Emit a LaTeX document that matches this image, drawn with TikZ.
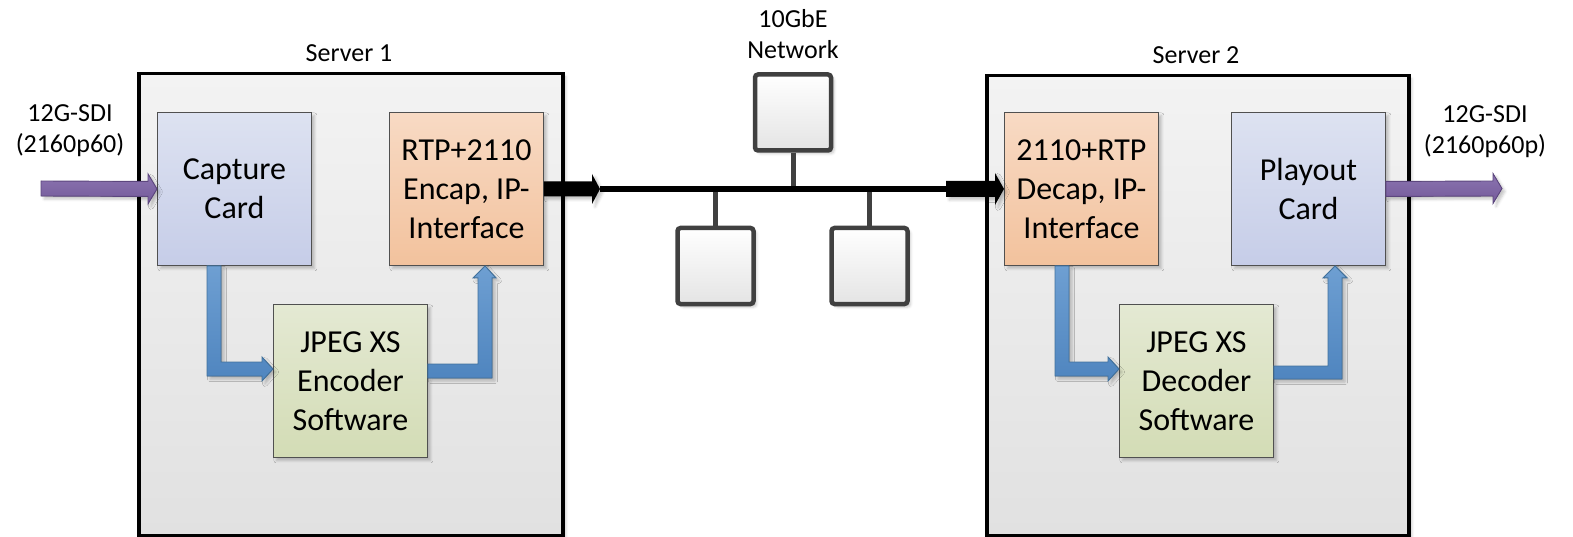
\documentclass[tikz,border=0pt]{standalone}
\usepackage{fontspec}
\setmainfont{Carlito}
\usetikzlibrary{calc,shadows.blur}

\definecolor{srvtop}{HTML}{F3F3F3}
\definecolor{srvbot}{HTML}{E1E1E1}
\definecolor{blkline}{HTML}{505050}
\definecolor{cardtop}{HTML}{DDE2F1}
\definecolor{cardbot}{HTML}{C6CDE8}
\definecolor{iptop}{HTML}{F8DAC4}
\definecolor{ipbot}{HTML}{F2C29D}
\definecolor{swtop}{HTML}{E4E9D3}
\definecolor{swbot}{HTML}{D3DCB5}
\definecolor{bluetop}{HTML}{6E9FD2}
\definecolor{bluebot}{HTML}{4F85BF}
\definecolor{bluedk}{HTML}{41719C}
\definecolor{purtop}{HTML}{8B74B0}
\definecolor{purbot}{HTML}{745A9A}
\definecolor{purdk}{HTML}{5C467E}
\definecolor{netgray}{HTML}{404040}
\definecolor{netbot}{HTML}{E4E4E4}

\begin{document}
\begin{tikzpicture}[x=1pt,y=-1pt,
  softshadow/.style={blur shadow={shadow xshift=3pt,shadow yshift=-3pt,
      shadow blur radius=2.5pt,shadow opacity=22}},
  server/.style={draw=black,line width=3.5pt,top color=srvtop,bottom color=srvbot,
      anchor=north west,inner sep=0pt,softshadow},
  block/.style={draw=blkline,line width=0.9pt,minimum width=154pt,minimum height=153pt,
      anchor=north west,inner sep=0pt,align=center,
      font=\fontsize{32}{39}\selectfont,softshadow},
  cardblk/.style={block,top color=cardtop,bottom color=cardbot},
  ipblk/.style={block,top color=iptop,bottom color=ipbot},
  swblk/.style={block,top color=swtop,bottom color=swbot},
  netbox/.style={draw=netgray,line width=4.5pt,rounded corners=3pt,minimum size=76pt,
      inner sep=0pt,top color=white,bottom color=netbot,softshadow},
  % multi-line labels sit on the baseline of their last line
  lbl/.style={font=\fontsize{26}{31}\selectfont,align=center,anchor=base,inner sep=0pt},
  bluearr/.style={draw=bluedk,line width=0.9pt,top color=bluetop,bottom color=bluebot,
      line join=miter,softshadow},
  purparr/.style={draw=purdk,line width=0.9pt,top color=purtop,bottom color=purbot,
      line join=miter,softshadow},
  blackarr/.style={fill=black,softshadow},
  bus/.style={draw=black,line width=6pt},
  stem/.style={draw=netgray,line width=5pt}
]
\useasboundingbox (0,0) rectangle (1573,537);

% servers
\node[server,minimum width=424pt,minimum height=462pt] (srv1) at (137,72) {};
\node[server,minimum width=422pt,minimum height=460pt] (srv2) at (985,74) {};
\node[lbl] (srv1lbl) at (349,62) {Server 1};
\node[lbl] (srv2lbl) at (1196,64) {Server 2};

% server 1 blocks
\node[cardblk] (cap) at (157,112) {Capture\\Card};
\node[ipblk]   (rtp) at (389,112) {RTP+2110\\Encap, IP-\\Interface};
\node[swblk]   (enc) at (273,304) {JPEG XS\\Encoder\\Software};

% server 2 blocks
\node[ipblk]   (dcp) at (1004,112) {2110+RTP\\Decap, IP-\\Interface};
\node[cardblk] (ply) at (1231,112) {Playout\\Card};
\node[swblk]   (dec) at (1119,304) {JPEG XS\\Decoder\\Software};

% SDI in / out labels
\node[lbl] (sdiinlbl)  at (70,153)   {12G-SDI\\(2160p60)};
\node[lbl] (sdioutlbl) at (1485,154) {12G-SDI\\(2160p60p)};
\coordinate (sdiin)  at (41,188.5);
\coordinate (sdiout) at (1502,188.5);

% network
\node[lbl] (netlbl) at (793,59) {10GbE\\Network};
\node[netbox] (nettop) at (793,112.5) {};
\node[netbox] (netbl)  at (715.5,266) {};
\node[netbox] (netbr)  at (869.5,266) {};
\coordinate (netL) at (600,189);
\coordinate (netR) at (946,189);

\draw[stem] (nettop.south) -- (nettop.south |- netL);
\draw[stem] (netbl.north) -- (netbl.north |- netL);
\draw[stem] (netbr.north) -- (netbr.north |- netL);
\draw[bus] (netL) -- (netR);

% SDI input arrow
\filldraw[purparr] ($(sdiin)+(0,-7.5)$) -- ($(cap.west)+(-9,-7.5)$) -- ++(0,-7.5)
  -- (cap.west) -- ($(cap.west)+(-9,15)$) -- ++(0,-7.5) -- ($(sdiin)+(0,7.5)$) -- cycle;

% SDI output arrow
\filldraw[purparr] ($(ply.east)+(0,-7.5)$) -- ($(sdiout)+(-9,-7.5)$) -- ++(0,-7.5)
  -- (sdiout) -- ($(sdiout)+(-9,15)$) -- ++(0,-7.5) -- ($(ply.east)+(0,7.5)$) -- cycle;

% IP out of server 1 onto the network
\fill[blackarr] ($(rtp.east)+(0,-7.5)$) -- ($(netL)+(-8,-7.5)$) -- ++(0,-7.5)
  -- (netL) -- ($(netL)+(-8,15)$) -- ++(0,-7.5) -- ($(rtp.east)+(0,7.5)$) -- cycle;

% IP from the network into server 2
\fill[blackarr] ($(netR)+(0,-8)$) -- ($(dcp.west)+(-9,-8)$) -- ++(0,-8)
  -- (dcp.west) -- ($(dcp.west)+(-9,16)$) -- ++(0,-8) -- ($(netR)+(0,8)$) -- cycle;

% capture -> encoder
\filldraw[bluearr] ($(cap.south west)+(50,0)$) -- ($(cap.south west)+(64,0)$)
  |- ($(enc.north west)+(-11,58)$) -- ++(0,-5) -- ($(enc.north west)+(0,65)$)
  -- ($(enc.north west)+(-11,77)$) -- ++(0,-5) -| ($(cap.south west)+(50,0)$) -- cycle;

% encoder -> encapsulation
\filldraw[bluearr] ($(enc.north east)+(0,60)$) -| ($(rtp.south west)+(89,12)$)
  -- ++(-5,0) -- ($(rtp.south west)+(96,0)$) -- ($(rtp.south west)+(107,12)$)
  -- ++(-4,0) |- ($(enc.north east)+(0,74)$) -- cycle;

% decapsulation -> decoder
\filldraw[bluearr] ($(dcp.south west)+(51,0)$) -- ($(dcp.south west)+(65,0)$)
  |- ($(dec.north west)+(-11,58)$) -- ++(0,-5) -- ($(dec.north west)+(0,65)$)
  -- ($(dec.north west)+(-11,77)$) -- ++(0,-5) -| ($(dcp.south west)+(51,0)$) -- cycle;

% decoder -> playout
\filldraw[bluearr] ($(dec.north east)+(0,62)$) -| ($(ply.south west)+(97,12)$)
  -- ++(-5,0) -- ($(ply.south west)+(104,0)$) -- ($(ply.south west)+(116,12)$)
  -- ++(-5,0) |- ($(dec.north east)+(0,75)$) -- cycle;
\end{tikzpicture}
\end{document}
